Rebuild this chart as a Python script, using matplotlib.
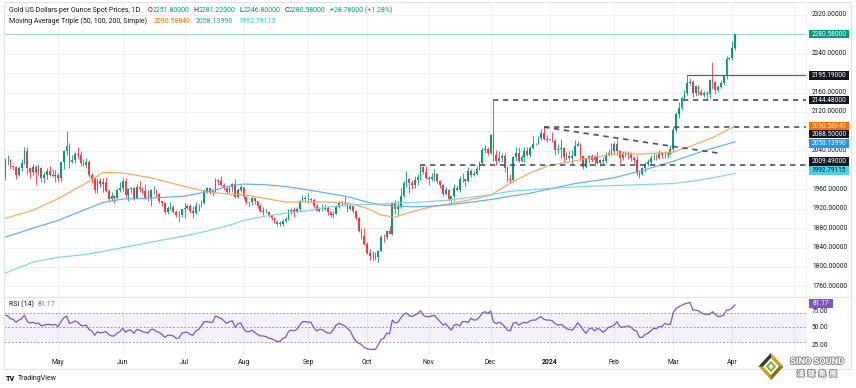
import numpy as np
import pandas as pd
import matplotlib
matplotlib.use("Agg")
import matplotlib.pyplot as plt
import matplotlib.transforms as mtrans
import matplotlib.patheffects as pe
from matplotlib.patches import Polygon, Rectangle

plt.rcParams['font.family'] = ['Roboto', 'Noto Sans CJK TC', 'DejaVu Sans']

# ---------------- data ----------------
first_day = '2023-04-04'
last_day = '2024-04-02'

opens = [
 1985, 2020, 2021, 2008, 2007, 1990, 2004, 2014, 2040, 2004, 1995, 2006, 1994, 2004, 1983, 1989, 1998, 1989, 1988,
 1990, 1983, 2016, 2039, 2050, 2017, 2021, 2034, 2030, 2015, 2011, 2017, 1989, 1982, 1958, 1978, 1971, 1975, 1957, 1941, 1946, 1943, 1959,
 1963, 1978, 1948, 1961, 1963, 1941, 1965, 1961, 1957, 1943, 1942, 1958, 1958, 1951, 1936, 1932, 1913, 1921, 1923, 1914, 1907, 1908,
 1919, 1921, 1926, 1915, 1911, 1925, 1925, 1932, 1957, 1962, 1955, 1955, 1979, 1977, 1969, 1962, 1955, 1965, 1972, 1945, 1959,
 1965, 1944, 1934, 1933, 1942, 1936, 1925, 1915, 1913, 1914, 1907, 1902, 1892, 1889, 1889, 1894, 1898, 1915, 1917, 1914, 1920, 1937, 1942,
 1940, 1940, 1939, 1926, 1916, 1919, 1919, 1922, 1913, 1908, 1910, 1924, 1934, 1931, 1930, 1920, 1925, 1915, 1901, 1875, 1864,
 1848, 1828, 1822, 1822, 1820, 1833, 1862, 1861, 1874, 1868, 1932, 1919, 1923, 1947, 1974, 1981, 1973, 1970, 1979, 1985, 2006, 1996,
 1983, 1982, 1985, 1992, 1978, 1969, 1950, 1958, 1940, 1946, 1963, 1959, 1981, 1981, 1977, 1998, 1990, 1992, 2002, 2014, 2041, 2044,
 2036, 2072, 2030, 2019, 2025, 2028, 2004, 1982, 1980, 2027, 2036, 2019, 2027, 2040, 2031, 2046, 2053, 2053, 2067, 2077, 2065,
 2063, 2063, 2059, 2042, 2043, 2045, 2027, 2029, 2024, 2029, 2049, 2054, 2028, 2006, 2023, 2029, 2021, 2029, 2014, 2020, 2018, 2032, 2036,
 2039, 2054, 2039, 2025, 2035, 2035, 2034, 2024, 2020, 1993, 1992, 2004, 2013, 2017, 2025, 2025, 2024, 2035, 2031, 2030, 2034,
 2044, 2083, 2115, 2128, 2148, 2160, 2179, 2182, 2158, 2174, 2162, 2155, 2160, 2157, 2186, 2181, 2165, 2172, 2179, 2195, 2230,
 2232, 2251.8]

highs = [
 2025, 2032, 2022, 2010, 2009, 2009, 2022, 2048, 2048, 2007, 2012, 2010, 2013, 2006, 1996, 2004, 2009, 2003, 2000,
 1994, 2019, 2042, 2081, 2056, 2030, 2037, 2048, 2039, 2022, 2024, 2020, 1993, 1985, 1984, 1983, 1984, 1985, 1960, 1955, 1949, 1962, 1975,
 1983, 1984, 1962, 1966, 1965, 1972, 1977, 1965, 1971, 1959, 1960, 1968, 1958, 1952, 1937, 1935, 1925, 1933, 1928, 1917, 1915, 1920,
 1932, 1930, 1929, 1925, 1935, 1930, 1938, 1960, 1964, 1963, 1959, 1984, 1982, 1987, 1973, 1966, 1966, 1974, 1982, 1962, 1969,
 1966, 1947, 1937, 1947, 1943, 1937, 1930, 1923, 1919, 1916, 1910, 1904, 1896, 1894, 1898, 1904, 1919, 1922, 1924, 1924, 1938, 1949, 1946,
 1953, 1943, 1942, 1930, 1924, 1929, 1930, 1925, 1916, 1915, 1928, 1937, 1937, 1947, 1932, 1930, 1926, 1916, 1904, 1880, 1880,
 1851, 1836, 1832, 1830, 1835, 1865, 1867, 1875, 1885, 1933, 1938, 1937, 1962, 1978, 1997, 1983, 1979, 1987, 1991, 2009.49, 2009, 2008,
 1987, 1993, 2003, 1994, 1980, 1971, 1966, 1960, 1946, 1971, 1970, 1988, 1993, 1982, 2007, 2003, 1997, 2008, 2018, 2048, 2052, 2048,
 2075, 2144.48, 2041, 2040, 2035, 2036, 2008, 1991, 2029, 2048, 2047, 2030, 2047, 2047, 2049, 2070, 2056, 2070, 2084, 2088.5, 2072,
 2064, 2079, 2065, 2053, 2064, 2047, 2038, 2040, 2041, 2062, 2060, 2056, 2030, 2024, 2031, 2033, 2031, 2037, 2023, 2026, 2037, 2043, 2056,
 2058, 2065, 2042, 2039, 2039, 2040, 2037, 2029, 2032, 1998, 2006, 2016, 2022, 2031, 2035, 2034, 2041, 2036, 2040, 2037, 2052,
 2088, 2120, 2141, 2152, 2165, 2195.19, 2189, 2185, 2175, 2175, 2168, 2164, 2163, 2188, 2222, 2183, 2176, 2185, 2196, 2236, 2234,
 2266, 2281.22]

lows = [
 1980, 2010, 2003, 2000, 1981, 1987, 1999, 2012, 1992, 1984, 1990, 1969, 1990, 1975, 1974, 1981, 1987, 1985, 1975,
 1978, 1977, 2003, 2030, 2004, 2014, 2015, 2023, 2009, 2008, 2005, 1985, 1974, 1952, 1952, 1965, 1955, 1955, 1937, 1937, 1932, 1940, 1955,
 1956, 1942, 1937, 1953, 1939, 1940, 1955, 1951, 1940, 1937, 1925, 1950, 1945, 1932, 1925, 1910, 1910, 1918, 1912, 1903, 1893, 1903,
 1902, 1920, 1912, 1902, 1909, 1915, 1923, 1930, 1952, 1950, 1947, 1952, 1970, 1968, 1958, 1950, 1953, 1955, 1943, 1942, 1954,
 1940, 1929, 1925, 1927, 1930, 1922, 1913, 1907, 1911, 1903, 1897, 1890, 1885, 1884, 1884, 1893, 1896, 1909, 1904, 1913, 1916, 1936, 1934,
 1931, 1935, 1922, 1915, 1914, 1915, 1917, 1908, 1903, 1901, 1910, 1921, 1928, 1926, 1913, 1918, 1912, 1897, 1872, 1857, 1846,
 1826, 1815, 1815, 1815, 1810, 1832, 1852, 1858, 1867, 1866, 1909, 1908, 1921, 1945, 1965, 1953, 1960, 1962, 1970, 1979, 1991, 1982,
 1970, 1977, 1978, 1974, 1962, 1946, 1948, 1936, 1931, 1937, 1956, 1955, 1975, 1965, 1975, 1986, 1988, 1990, 2001, 2012, 2035, 2031,
 2034, 2018, 2010, 2016, 2017, 1995, 1976, 1973, 1976, 2018, 2017, 2016, 2017, 2028, 2026, 2044, 2052, 2053, 2063, 2062, 2058,
 2062, 2057, 2031, 2033, 2024, 2017, 2021, 2021, 2013, 2028, 2049, 2020, 2002, 2005, 2015, 2017, 2011, 2012, 2009, 2010, 2015, 2029, 2030,
 2033, 2031, 2015, 2020, 2027, 2023, 2019, 2015, 1990, 1984, 1989, 1996, 2009, 2013, 2020, 2020, 2023, 2025, 2025, 2024, 2031,
 2038, 2078, 2107, 2124, 2144, 2155, 2175, 2150, 2153, 2154, 2154, 2150, 2146, 2148, 2168, 2157, 2161, 2170, 2175, 2187, 2228,
 2228, 2246.8]

closes = [
 2020, 2021, 2008, 2007, 1990, 2004, 2014, 2040, 2004, 1995, 2006, 1994, 2004, 1983, 1989, 1998, 1989, 1988, 1990,
 1983, 2016, 2039, 2050, 2017, 2021, 2034, 2030, 2015, 2011, 2017, 1989, 1982, 1958, 1978, 1971, 1975, 1957, 1941, 1946, 1943, 1959, 1963,
 1978, 1948, 1961, 1963, 1941, 1965, 1961, 1957, 1943, 1942, 1958, 1958, 1951, 1936, 1932, 1913, 1921, 1923, 1914, 1907, 1908, 1919,
 1921, 1926, 1915, 1911, 1925, 1925, 1932, 1957, 1962, 1955, 1955, 1979, 1977, 1969, 1962, 1955, 1965, 1972, 1945, 1959, 1965,
 1944, 1934, 1933, 1942, 1936, 1925, 1915, 1913, 1914, 1907, 1902, 1892, 1889, 1889, 1894, 1898, 1915, 1917, 1914, 1920, 1937, 1942, 1940,
 1940, 1939, 1926, 1916, 1919, 1919, 1922, 1913, 1908, 1910, 1924, 1934, 1931, 1930, 1920, 1925, 1915, 1901, 1875, 1864, 1848,
 1828, 1822, 1822, 1820, 1833, 1862, 1861, 1874, 1868, 1932, 1919, 1923, 1947, 1974, 1981, 1973, 1970, 1979, 1985, 2006, 1996, 1983,
 1982, 1985, 1992, 1978, 1969, 1950, 1958, 1940, 1946, 1963, 1959, 1981, 1981, 1977, 1998, 1990, 1992, 2002, 2014, 2041, 2044, 2036,
 2072, 2030, 2019, 2025, 2028, 2004, 1982, 1980, 2027, 2036, 2019, 2027, 2040, 2031, 2046, 2053, 2053, 2067, 2077, 2065, 2063,
 2063, 2059, 2042, 2043, 2045, 2027, 2029, 2024, 2029, 2049, 2054, 2028, 2006, 2023, 2029, 2021, 2029, 2014, 2020, 2018, 2032, 2036, 2039,
 2054, 2039, 2025, 2035, 2035, 2034, 2024, 2020, 1993, 1992, 2004, 2013, 2017, 2025, 2025, 2024, 2035, 2031, 2030, 2034, 2044,
 2083, 2115, 2128, 2148, 2160, 2179, 2182, 2158, 2174, 2162, 2155, 2160, 2157, 2186, 2181, 2165, 2172, 2179, 2195, 2230, 2232,
 2251, 2280.58]

rsi_values = [
 67, 66, 62, 61, 57, 60, 62, 67, 58, 56, 57, 55, 56, 52, 53, 54, 54, 53, 54,
 51, 58, 63, 65.7, 55.5, 56.5, 58.8, 57, 53, 52, 53, 47, 45, 39, 44, 42, 43, 44, 40, 38, 38, 42, 44,
 48.6, 43, 46, 46, 41.7, 47, 46, 44, 43, 42, 47, 47, 44, 43, 40, 36, 39, 39, 38, 34.7, 35, 41.7,
 43, 43, 40, 39, 45, 47, 52, 57.8, 58, 57, 57, 65.7, 64, 62.5, 59, 55.5, 57.8, 59, 50, 55, 56,
 48, 44, 44, 46, 43, 40, 38, 38, 37, 35, 34, 32.4, 30, 30.5, 34.7, 36, 44, 46, 45, 47, 53, 57.8, 58,
 57, 57, 50, 45, 47, 47, 44, 42, 41.7, 47, 53, 55.5, 54, 52, 48.6, 45, 37, 31, 28, 26, 22,
 20, 19.5, 19.5, 19.4, 26, 33, 35, 42, 41, 60, 56, 57, 63, 68, 70, 66, 65, 67, 69, 73, 67, 64.7,
 64.5, 65.7, 66.5, 62, 58, 53, 55, 50, 46, 53, 54, 52, 58, 57.8, 57, 62.5, 60, 60.5, 64, 70, 71.7, 69,
 72.6, 57.8, 55, 57, 55, 51, 46, 45, 55.5, 57, 53, 55.5, 57, 56, 59, 60, 60, 63, 64.7, 61, 60,
 60, 59, 55, 53, 54, 52, 48, 47, 46, 50, 56.4, 52, 46, 41.7, 47.5, 49, 45, 48.5, 47, 43, 46, 50, 51,
 53, 57.8, 51, 50, 51, 52, 50, 46, 45, 36, 36, 40, 41.7, 45, 48.6, 48, 51, 51, 55.5, 54, 54,
 70, 76, 78.6, 80.5, 82.4, 83.5, 84.5, 74, 74, 73, 70, 68.5, 68, 68, 71.7, 68, 64.7, 65.5, 67, 74, 74.2,
 77, 81.17]

ma_dates = ['2023-04-04', '2023-04-18', '2023-05-01', '2023-05-12', '2023-05-23', '2023-06-01',
            '2023-06-15', '2023-07-03', '2023-07-13', '2023-07-25', '2023-08-01', '2023-08-10',
            '2023-08-22', '2023-09-01', '2023-09-12', '2023-09-21', '2023-10-02', '2023-10-09',
            '2023-10-16', '2023-10-24', '2023-11-01', '2023-11-10', '2023-11-21', '2023-12-01',
            '2023-12-12', '2023-12-21', '2024-01-01', '2024-01-12', '2024-01-23', '2024-02-01',
            '2024-02-15', '2024-03-01', '2024-03-12', '2024-03-21', '2024-04-02']
ma50 = [1900, 1917, 1941, 1970, 1995, 1994, 1984, 1966, 1955, 1950, 1949, 1942, 1934, 1934, 1934,
        1932, 1921, 1907, 1903, 1914, 1923, 1930, 1938, 1948, 1973, 1994, 2010, 2019, 2027, 2033,
        2033, 2037, 2051, 2067, 2090.5884]
ma100 = [1861, 1880, 1896, 1917, 1933, 1940, 1942, 1946, 1955, 1967, 1971, 1970, 1966, 1959, 1952,
         1945, 1934, 1928, 1926, 1924, 1925, 1928, 1933, 1939, 1946, 1952, 1961, 1972, 1978, 1984,
         1999, 2018, 2032, 2045, 2058.1399]
ma200 = [1787, 1810, 1820, 1825, 1832, 1840, 1851, 1864, 1874, 1886, 1896, 1904, 1911, 1916, 1924,
         1928, 1929, 1930, 1932, 1933, 1935, 1938, 1943, 1949, 1956, 1959, 1962, 1965, 1967, 1968,
         1970, 1972, 1977, 1984, 1992.79115]

dashed_levels = [('2023-12-04', 2144.48), ('2023-12-28', 2088.50), ('2023-10-27', 2009.49)]
march_high = ('2024-03-08', 2195.19)
trend_start = ('2023-12-28', 2088.50)
trend_end = ('2024-03-26', 2034.0)
last_price = 2280.58
change_text = "+28.78000 (+1.28%)"
rsi_last = 81.17
price_ticks = list(range(1760, 2321, 40))
rsi_ticks = [25, 50, 75]
rsi_bands = [30, 50, 70]

# ---------------- figure ----------------
W, H = 856, 388
fig = plt.figure(figsize=(W / 100, H / 100), dpi=100)
fig.patch.set_facecolor('white')

def fx(px):
    return px / W

def fy(py):
    return 1 - py / H

XMIN, XMAX = -0.285, 285.3
axp = fig.add_axes([fx(4), fy(296), fx(802), 294 / H])
axr = fig.add_axes([fx(4), fy(354), fx(802), 57 / H])
for a in (axp, axr):
    a.set_xlim(XMIN, XMAX)
    a.set_xticks([]); a.set_yticks([])
    for s in a.spines.values():
        s.set_visible(False)
    a.set_facecolor('none')
axp.set_ylim(1740.0, 2346.8)
axr.set_ylim(12.9, 92.1)

dates = pd.bdate_range(first_day, last_day)
n = len(dates)
x = np.arange(n)
o = np.array(opens, float); h = np.array(highs, float)
l = np.array(lows, float); c = np.array(closes, float)

GRID = '#eef0f5'
TXT = '#131722'
UP, DN = '#089981', '#F23645'

# month grid / labels
cal = pd.bdate_range(first_day, '2024-05-01')
month_starts = [i for i in range(1, len(cal)) if cal[i].month != cal[i - 1].month]
for a in (axp, axr):
    for i in month_starts:
        a.axvline(i, color=GRID, lw=0.8, zorder=0)
for p in price_ticks:
    axp.axhline(p, color=GRID, lw=0.8, zorder=0)

tr_month = mtrans.blended_transform_factory(axr.transData, fig.transFigure)
for i in month_starts:
    if i >= n:
        continue
    d = cal[i]
    lab = str(d.year) if d.month == 1 else d.strftime('%b')
    fig.text(i, fy(362), lab, transform=tr_month, ha='center', va='center',
             fontsize=4.9, color=TXT, weight='bold' if d.month == 1 else 'normal')

# candles
up = c >= o
cols = np.where(up, UP, DN)
axp.vlines(x, np.minimum(l, np.minimum(o, c)), np.maximum(h, np.maximum(o, c)),
           colors=cols, lw=0.6, zorder=2)
body_lo = np.minimum(o, c)
body_h = np.maximum(np.abs(c - o), 0.8)
axp.bar(x, body_h, bottom=body_lo, width=0.62, color=cols, lw=0, zorder=2.5)

# moving averages
mx = dates.get_indexer(pd.to_datetime(ma_dates))
axp.plot(mx, ma50, color='#FFA35F', lw=0.85, zorder=3)
axp.plot(mx, ma100, color='#62ACF2', lw=0.85, zorder=3)
axp.plot(mx, ma200, color='#79D7E3', lw=0.85, zorder=3)

# last price line
axp.axhline(last_price, color='#9ad8cd', lw=0.7, zorder=1)

# level lines
dash = (0, (3.2, 2.8))
for d, v in dashed_levels:
    i0 = dates.get_loc(pd.Timestamp(d))
    axp.plot([i0, XMAX], [v, v], color='#4f525d', lw=1.2, ls=dash, zorder=4)
i0 = dates.get_loc(pd.Timestamp(march_high[0]))
axp.plot([i0, XMAX], [march_high[1]] * 2, color='#5d606b', lw=0.9, zorder=4)
ts = dates.get_loc(pd.Timestamp(trend_start[0])); te = dates.get_loc(pd.Timestamp(trend_end[0]))
axp.plot([ts, te], [trend_start[1], trend_end[1]], color='#4f525d', lw=1.2, ls=dash, zorder=4)

# RSI
axr.axhspan(rsi_bands[0], rsi_bands[2], color='#7E57C2', alpha=0.08, lw=0, zorder=0)
for b in rsi_bands:
    axr.axhline(b, color='#8a8d98', lw=0.6, ls=(0, (2.2, 2.2)), zorder=1)
axr.plot(x, rsi_values, color='#7E57C2', lw=0.9, zorder=3)

# borders
def fline(x0, y0, x1, y1, col='#e0e3eb', lw=0.8):
    fig.add_artist(plt.Line2D([fx(x0), fx(x1)], [fy(y0), fy(y1)], color=col, lw=lw,
                              transform=fig.transFigure))
fline(4, 2, 4, 369)
fline(4, 369, 851, 369)
fline(851, 2, 851, 369)
fline(4, 2, 851, 2)
fline(4, 296.5, 851, 296.5)
fline(806, 2, 806, 369, col='#eef0f5')

def ybox(ax, v):
    return ax.transData.transform((0, v))[1]   # display px from bottom

def label_box(ax, v, text, fc, tc, dy=0.0, x0=809, w=40, hgt=8.6):
    yc = ybox(ax, v) - dy
    fig.add_artist(Rectangle((fx(x0), (yc - hgt / 2) / H), fx(w), hgt / H, fc=fc, ec='none',
                             transform=fig.transFigure, zorder=5))
    fig.text(fx(x0 + w / 2), yc / H, text, ha='center', va='center', fontsize=4.7,
             color=tc, zorder=6)
    return yc

box_y = []
box_y.append(label_box(axp, last_price, f"{last_price:.5f}", UP, 'white'))
box_y.append(label_box(axp, march_high[1], f"{march_high[1]:.5f}", TXT, 'white'))
box_y.append(label_box(axp, dashed_levels[0][1], f"{dashed_levels[0][1]:.5f}", TXT, 'white'))
box_y.append(label_box(axp, ma50[-1], f"{ma50[-1]:.5f}", '#FF6D00', 'white'))
box_y.append(label_box(axp, dashed_levels[1][1], f"{dashed_levels[1][1]:.5f}", TXT, 'white', dy=7))
box_y.append(label_box(axp, ma100[-1], f"{ma100[-1]:.5f}", '#2196F3', 'white', dy=1.5))
box_y.append(label_box(axp, dashed_levels[2][1], f"{dashed_levels[2][1]:.5f}", TXT, 'white', dy=-3.7))
box_y.append(label_box(axp, ma200[-1], f"{ma200[-1]:.5f}", '#4DD0E1', TXT, dy=-3))
rsi_box = label_box(axr, rsi_last, f"{rsi_last:.2f}", '#7E57C2', 'white', w=24, dy=-1.5)

# right axis tick labels (those fully covered by a label box are not drawn)
trp = mtrans.blended_transform_factory(fig.transFigure, axp.transData)
for p in price_ticks:
    yp = ybox(axp, p)
    if min(abs(yp - b) for b in box_y) < 6.5:
        continue
    fig.text(fx(812), p, f"{p:.5f}", transform=trp, ha='left', va='center',
             fontsize=4.7, color=TXT)
for r in rsi_ticks:
    yr = ybox(axr, r)
    if abs(yr - rsi_box) < 8.5:
        yr = rsi_box - 8.5       # peek out just below the value box
    fig.text(fx(812), yr / H, f"{r:.2f}", ha='left', va='center',
             fontsize=4.7, color=TXT, zorder=1)

# header text (chained pieces)
renderer = fig.canvas.get_renderer()
def chain(pieces, x0, ypx, size=5.0):
    xc = x0
    for txt, col, gap in pieces:
        xc += gap
        t = fig.text(fx(xc), fy(ypx), txt, ha='left', va='center', fontsize=size, color=col)
        xc = t.get_window_extent(renderer).x1
    return xc

chain([("Gold US Dollars per Ounce Spot Prices, 1D", TXT, 0),
       ("O", TXT, 7), (f"{opens[-1]:.5f}", UP, 0.3),
       ("H", TXT, 4), (f"{highs[-1]:.5f}", UP, 0.3),
       ("L", TXT, 4), (f"{lows[-1]:.5f}", UP, 0.3),
       ("C", TXT, 4), (f"{closes[-1]:.5f}", UP, 0.3),
       (change_text, UP, 4)], 9, 10)
chain([("Moving Average Triple (50, 100, 200, Simple)", TXT, 0),
       (f"{ma50[-1]:.5f}", '#FF6D00', 7),
       (f"{ma100[-1]:.5f}", '#2196F3', 5),
       (f"{ma200[-1]:.5f}", '#26C6DA', 5)], 9, 21.5)
chain([("RSI (14)", TXT, 0), (f"{rsi_last:.2f}", '#7E57C2', 4)], 9, 304.5)

# TradingView mark
fig.text(fx(6), fy(379), "TV", fontsize=5.2, weight='heavy', color=TXT, ha='left', va='center')
fig.text(fx(17.5), fy(379), "TradingView", fontsize=5.0, color=TXT, ha='left', va='center')

# Sino Sound watermark
def poly(pts, col, z=7):
    fig.add_artist(Polygon([(fx(a), fy(b)) for a, b in pts], closed=True, fc=col, ec='none',
                           transform=fig.transFigure, zorder=z))
cx, cy = 771, 366.5
def diamond(s, col, z):
    poly([(cx, cy - 13.5 * s), (cx + 12.5 * s, cy), (cx, cy + 13.5 * s), (cx - 12.5 * s, cy)], col, z)
diamond(1.0, '#C9A227', 7)
poly([(cx, cy - 13.5), (cx - 12.5, cy), (cx - 8, cy), (cx, cy - 8.7)], '#3b3a32', 7.5)
poly([(cx + 12.5, cy), (cx, cy + 13.5), (cx, cy + 8.7), (cx + 8, cy)], '#8a6d12', 7.5)
diamond(0.62, '#ffffff', 8)
diamond(0.42, '#7CB342', 8.5)
diamond(0.2, '#ffffff', 9)
stroke = [pe.withStroke(linewidth=1.4, foreground='#8c8c8c')]
fig.text(fx(817), fy(361.5), "SINO SOUND", ha='center', va='center', fontsize=6.6,
         weight='bold', color='white', path_effects=stroke, zorder=9)
fig.text(fx(817), fy(373.5), "漢  聲  集  團", ha='center', va='center', fontsize=5.4,
         weight='bold', color='white', path_effects=stroke, zorder=9,
         family=['Noto Sans CJK TC', 'DejaVu Sans'])

fig.savefig('out.png', dpi=100, facecolor='white')
